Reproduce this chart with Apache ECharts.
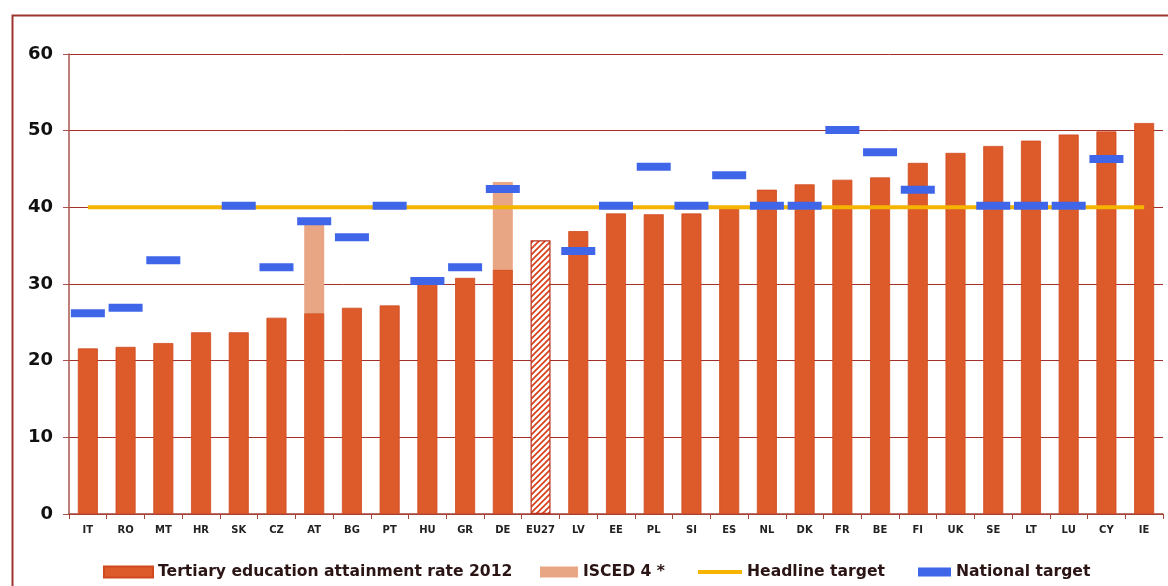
<!DOCTYPE html>
<html>
<head>
<meta charset="utf-8">
<script src="https://cdn.jsdelivr.net/npm/echarts@6/dist/echarts.min.js"></script>
<style>html,body{margin:0;padding:0;background:#fff}#c{width:1168px;height:586px}</style>
</head>
<body>
<div id="c"></div>
<script>
var categories = ['IT','RO','MT','HR','SK','CZ','AT','BG','PT','HU','GR','DE','EU27','LV','EE','PL','SI','ES','NL','DK','FR','BE','FI','UK','SE','LT','LU','CY','IE'];
var attainment2012 = [21.6,21.8,22.3,23.7,23.7,25.6,26.2,26.9,27.2,30.1,30.8,31.9,35.7,36.9,39.2,39.1,39.2,39.9,42.3,43.0,43.6,43.9,45.8,47.1,48.0,48.7,49.5,49.9,51.0];
var isced4 = [null,null,null,null,null,null,11.7,null,null,null,null,11.4,null,null,null,null,null,null,null,null,null,null,null,null,null,null,null,null,null];
var headlineTarget = [40,40,40,40,40,40,40,40,40,40,40,40,40,40,40,40,40,40,40,40,40,40,40,40,40,40,40,40,40];
var nationalTarget = [26.2,26.9,33.1,null,40.2,32.2,38.2,36.1,40.2,30.4,32.2,42.4,null,34.3,40.2,45.3,40.2,44.2,40.2,40.2,50.1,47.2,42.3,null,40.2,40.2,40.2,46.3,60.3];
var yTicks = [0,10,20,30,40,50,60];

var hatch = document.createElement('canvas');
hatch.width = 6; hatch.height = 6;
var hc = hatch.getContext('2d');
hc.fillStyle = '#ffffff'; hc.fillRect(0,0,6,6);
hc.strokeStyle = '#d8401c'; hc.lineWidth = 1.7;
hc.beginPath();
hc.moveTo(0,6); hc.lineTo(6,0);
hc.moveTo(-1,1); hc.lineTo(1,-1);
hc.moveTo(5,7); hc.lineTo(7,5);
hc.stroke();

var mainColor = '#dd5a2b';
var mainData = attainment2012.map(function(v, i){
  if (categories[i] === 'EU27') {
    return {value: v, itemStyle: {color: {image: hatch, repeat: 'repeat'}, borderColor: '#b8321c', borderWidth: 1.2}};
  }
  return v;
});

var chart = echarts.init(document.getElementById('c'));
var legendText = {fontFamily: 'DejaVu Sans', fontSize: 15.6, fontWeight: 'bold', color: '#2a1414'};
chart.setOption({
  animation: false,
  backgroundColor: '#ffffff',
  graphic: [{
    type: 'rect', left: 10, top: 13, z: 100, silent: true,
    shape: {x: 0, y: 0, width: 1200, height: 620},
    style: {fill: 'none', stroke: '#9e3530', lineWidth: 2}
  }],
  grid: {left: 69, right: 5, top: 54, bottom: 72},
  legend: [
    {data: ['Tertiary education attainment rate 2012'], left: 103, top: 564, itemWidth: 49, itemHeight: 11, icon: 'rect', textStyle: legendText, padding: 0},
    {data: ['ISCED 4 *'], left: 540, top: 564, itemWidth: 38, itemHeight: 11, icon: 'rect', textStyle: legendText, padding: 0},
    {data: ['Headline target'], left: 698, top: 564, itemWidth: 44, itemHeight: 4, icon: 'rect', textStyle: legendText, padding: 0},
    {data: ['National target'], left: 918, top: 564, itemWidth: 33, itemHeight: 9, icon: 'rect', textStyle: legendText, padding: 0}
  ],
  xAxis: {
    type: 'category', data: categories, boundaryGap: true,
    axisLine: {lineStyle: {color: '#a5453a', width: 1.5}},
    axisTick: {show: true, length: 5, lineStyle: {color: '#a5453a'}},
    axisLabel: {fontFamily: 'DejaVu Sans', fontSize: 10, fontWeight: 'bold', color: '#222', margin: 11, interval: 0}
  },
  yAxis: {
    type: 'value', min: 0, max: 60, interval: 10,
    axisLine: {show: true, lineStyle: {color: '#a8564d', width: 1.5}},
    axisTick: {show: true, length: 6, lineStyle: {color: '#a8564d'}},
    axisLabel: {fontFamily: 'DejaVu Sans', fontSize: 18, fontWeight: 'bold', color: '#111', margin: 16,
      formatter: function(v){ return yTicks.indexOf(v) >= 0 ? String(v) : ''; }},
    splitLine: {show: true, lineStyle: {color: '#a3302a', width: 1}}
  },
  series: [
    {name: 'Tertiary education attainment rate 2012', type: 'bar', stack: 'a', data: mainData, barWidth: 20,
      itemStyle: {color: mainColor, borderColor: '#d04a1e', borderWidth: 0.8}, z: 2},
    {name: 'ISCED 4 *', type: 'bar', stack: 'a', data: isced4, barWidth: 20,
      itemStyle: {color: '#e9a685'}, z: 2},
    {name: 'Headline target', type: 'line', data: headlineTarget, showSymbol: false, symbol: 'none',
      lineStyle: {color: '#f5b400', width: 4}, itemStyle: {color: '#f5b400'}, z: 3},
    {name: 'National target', type: 'scatter', data: nationalTarget, symbol: 'rect', symbolSize: [34, 8],
      itemStyle: {color: '#3f66e8', opacity: 1}, z: 4}
  ]
});
</script>
</body>
</html>
